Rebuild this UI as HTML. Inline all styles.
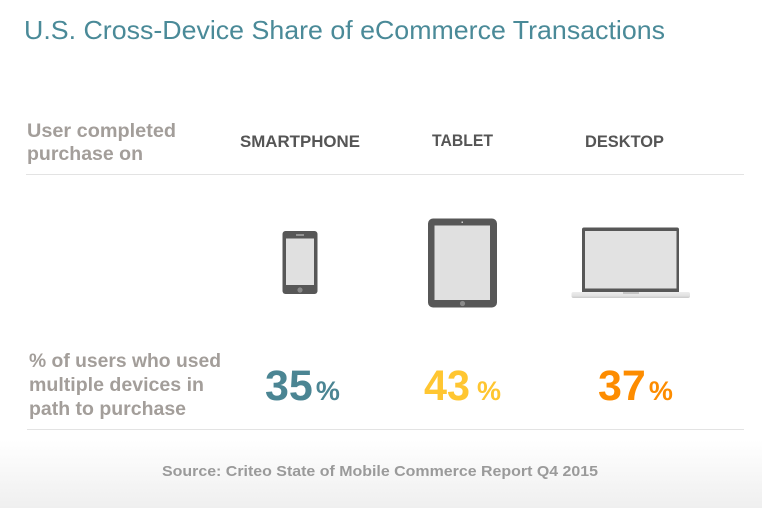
<!DOCTYPE html>
<html>
<head>
<meta charset="utf-8">
<style>
html,body{margin:0;padding:0;background:#fff;}
svg{display:block;}
text{font-family:"Liberation Sans",Arial,sans-serif;}
</style>
</head>
<body>
<svg width="762" height="508" viewBox="0 0 762 508" xmlns="http://www.w3.org/2000/svg">
  <defs>
    <linearGradient id="bg" x1="0" y1="0" x2="0" y2="1">
      <stop offset="0" stop-color="#ffffff"/>
      <stop offset="1" stop-color="#efefef"/>
    </linearGradient>
    <linearGradient id="base" x1="0" y1="0" x2="0" y2="1">
      <stop offset="0" stop-color="#ececec"/>
      <stop offset="0.6" stop-color="#e2e2e2"/>
      <stop offset="1" stop-color="#c9c9c9"/>
    </linearGradient>
  </defs>
  <rect x="0" y="0" width="762" height="508" fill="#fff"/>
  <rect x="0" y="440" width="762" height="68" fill="url(#bg)"/>

  <!-- Title -->
  <text x="24" y="39" font-size="26" fill="#4a8a98" textLength="641" lengthAdjust="spacingAndGlyphs">U.S. Cross-Device Share of eCommerce Transactions</text>

  <!-- Row 1 labels -->
  <text x="27" y="137" font-size="19" font-weight="bold" fill="#a39e9a" textLength="149" lengthAdjust="spacingAndGlyphs">User completed</text>
  <text x="27" y="160" font-size="19" font-weight="bold" fill="#a39e9a" textLength="116" lengthAdjust="spacingAndGlyphs">purchase on</text>

  <text x="240" y="147" font-size="17" font-weight="bold" fill="#555" textLength="120" lengthAdjust="spacingAndGlyphs">SMARTPHONE</text>
  <text x="432" y="146" font-size="17" font-weight="bold" fill="#555" textLength="61" lengthAdjust="spacingAndGlyphs">TABLET</text>
  <text x="585" y="147" font-size="17" font-weight="bold" fill="#555" textLength="79" lengthAdjust="spacingAndGlyphs">DESKTOP</text>

  <line x1="26" y1="174.5" x2="744" y2="174.5" stroke="#e3e3e3" stroke-width="1"/>

  <!-- Phone -->
  <rect x="282.5" y="231" width="35" height="63" rx="3" fill="#575757"/>
  <rect x="286" y="238.5" width="28" height="46.5" fill="#e0e0e0"/>
  <line x1="296" y1="235" x2="304" y2="235" stroke="#cfcfcf" stroke-width="1"/>
  <circle cx="300" cy="290" r="2.6" fill="#8a8a8a"/>

  <!-- Tablet -->
  <rect x="428" y="218.5" width="69" height="89" rx="5" fill="#575757"/>
  <rect x="434.5" y="225.5" width="55.5" height="74.5" fill="#e0e0e0"/>
  <rect x="461.5" y="221.5" width="1.5" height="1.5" fill="#cfcfcf"/>
  <circle cx="462.5" cy="303.5" r="2.6" fill="#8a8a8a"/>

  <!-- Laptop -->
  <rect x="582" y="227.5" width="97" height="66" rx="2" fill="#575757"/>
  <rect x="585" y="231" width="91.5" height="57.5" fill="#e2e2e2"/>
  <rect x="571.5" y="292" width="118.5" height="6" rx="2" fill="url(#base)"/>
  <rect x="623" y="292" width="16" height="2" fill="#c4c4c4"/>

  <!-- Row 2 labels -->
  <text x="29" y="367" font-size="19" font-weight="bold" fill="#a39e9a" textLength="192" lengthAdjust="spacingAndGlyphs">% of users who used</text>
  <text x="29" y="391" font-size="19" font-weight="bold" fill="#a39e9a" textLength="175" lengthAdjust="spacingAndGlyphs">multiple devices in</text>
  <text x="29" y="415" font-size="19" font-weight="bold" fill="#a39e9a" textLength="157" lengthAdjust="spacingAndGlyphs">path to purchase</text>

  <!-- Numbers -->
  <text x="265" y="400" font-size="43" font-weight="bold" fill="#4b8593">35<tspan dx="3" font-size="27">%</tspan></text>
  <text x="424" y="400" font-size="43" font-weight="bold" fill="#ffc631" textLength="46" lengthAdjust="spacingAndGlyphs">43</text>
  <text x="477" y="400" font-size="27" font-weight="bold" fill="#ffc631">%</text>
  <text x="598" y="400" font-size="43" font-weight="bold" fill="#fd8c00">37<tspan dx="3" font-size="27">%</tspan></text>

  <line x1="27" y1="429.5" x2="744" y2="429.5" stroke="#e3e3e3" stroke-width="1"/>

  <!-- Source -->
  <text x="162" y="476" font-size="15" font-weight="bold" fill="#9a9a9a" textLength="436" lengthAdjust="spacingAndGlyphs">Source: Criteo State of Mobile Commerce Report Q4 2015</text>
</svg>
</body>
</html>
